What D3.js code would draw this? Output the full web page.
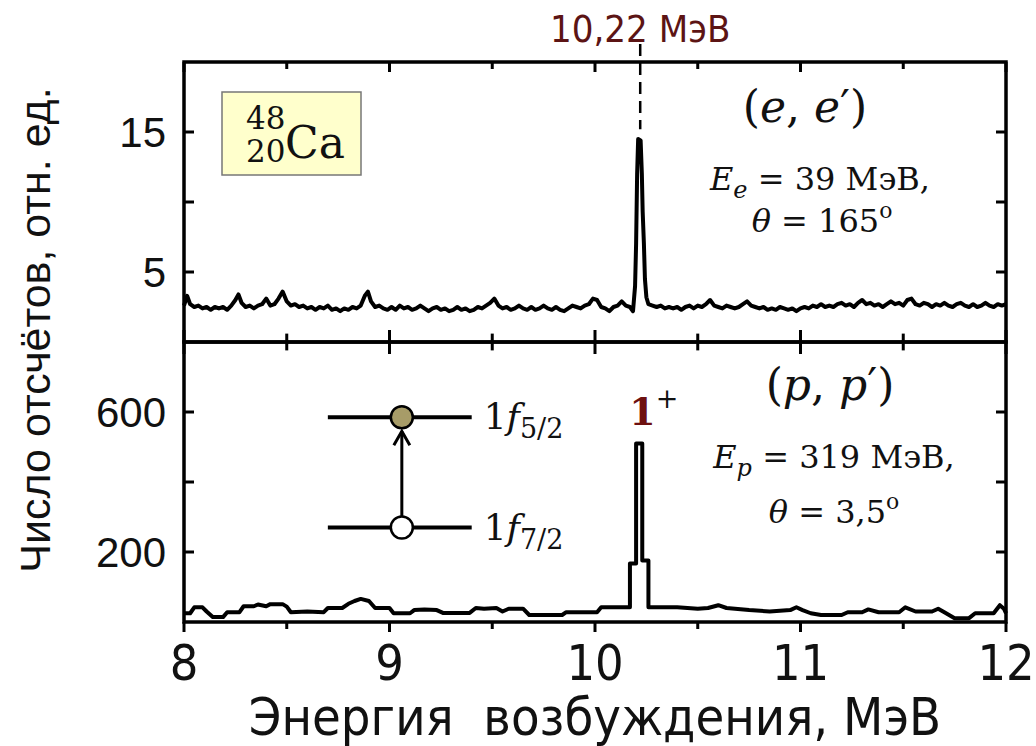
<!DOCTYPE html>
<html>
<head>
<meta charset="utf-8">
<script src="https://cdn.jsdelivr.net/npm/d3@7"></script>
<style>
  body { margin: 0; background: #fff; overflow: hidden; }
  svg { display: block; }
</style>
</head>
<body>
<div id="chart"></div>
<script>
// Excitation energy ticks (MeV)
const xTickLabels = [8, 9, 10, 11, 12];
const xMinorTicks = [8.5, 9.5, 10.5, 11.5];
const yTicksTop = [5, 10, 15];
const yLabelsTop = [5, 15];
const yTicksBottom = [200, 400, 600];
const yLabelsBottom = [200, 600];
const peakEnergy = 10.22;

// (e,e') spectrum: [energy, counts]
const spectrumTop = [
  [8.00, 2.6], [8.015, 3.3], [8.03, 2.7], [8.05, 2.5], [8.07, 2.6], [8.09, 2.4], [8.11, 2.5], [8.13, 2.3],
  [8.15, 2.5], [8.17, 2.4], [8.19, 2.5], [8.21, 2.3], [8.23, 2.6], [8.25, 3.0], [8.265, 3.4], [8.28, 2.8],
  [8.30, 2.5], [8.32, 2.6], [8.34, 2.4], [8.36, 2.6], [8.38, 2.7], [8.40, 3.1], [8.42, 2.6], [8.44, 2.7],
  [8.46, 3.1], [8.48, 3.6], [8.50, 2.9], [8.52, 2.6], [8.54, 2.7], [8.56, 2.5], [8.58, 2.6], [8.60, 2.4],
  [8.62, 2.5], [8.64, 2.3], [8.66, 2.5], [8.68, 2.4], [8.70, 2.6], [8.72, 2.3], [8.74, 2.4], [8.76, 2.2],
  [8.78, 2.4], [8.80, 2.3], [8.82, 2.5], [8.84, 2.4], [8.86, 2.6], [8.88, 3.3], [8.895, 3.6], [8.91, 2.9],
  [8.93, 2.5], [8.95, 2.6], [8.97, 2.4], [8.99, 2.3], [9.01, 2.5], [9.03, 2.3], [9.05, 2.6], [9.07, 2.4],
  [9.09, 2.5], [9.11, 2.3], [9.13, 2.4], [9.15, 2.6], [9.17, 2.4], [9.19, 2.2], [9.21, 2.4], [9.23, 2.5],
  [9.25, 2.3], [9.27, 2.4], [9.29, 2.2], [9.31, 2.3], [9.33, 2.5], [9.35, 2.3], [9.37, 2.4], [9.39, 2.2],
  [9.41, 2.3], [9.43, 2.5], [9.45, 2.4], [9.47, 2.6], [9.49, 2.8], [9.51, 3.1], [9.53, 2.6], [9.55, 2.4],
  [9.57, 2.5], [9.59, 2.3], [9.61, 2.4], [9.63, 2.6], [9.65, 2.4], [9.67, 2.3], [9.69, 2.5], [9.71, 2.3],
  [9.73, 2.4], [9.75, 2.6], [9.77, 2.4], [9.79, 2.3], [9.81, 2.5], [9.83, 2.3], [9.85, 2.2], [9.87, 2.4],
  [9.89, 2.6], [9.91, 2.5], [9.93, 2.4], [9.95, 2.6], [9.97, 2.7], [9.99, 3.1], [10.01, 3.0], [10.03, 2.5],
  [10.05, 2.4], [10.07, 2.2], [10.09, 2.5], [10.11, 2.6], [10.13, 2.9], [10.15, 2.6], [10.17, 2.5], [10.185, 2.2],
  [10.195, 4.0], [10.200, 7.0], [10.205, 12.0], [10.210, 14.5], [10.222, 14.4], [10.228, 12.0], [10.232, 9.3],
  [10.238, 7.0], [10.243, 4.5], [10.25, 3.2], [10.26, 2.7], [10.28, 2.6], [10.30, 2.5], [10.32, 2.6], [10.34, 2.4],
  [10.36, 2.5], [10.38, 2.4], [10.40, 2.5], [10.42, 2.3], [10.44, 2.5], [10.46, 2.6], [10.48, 2.4], [10.50, 2.6],
  [10.52, 2.5], [10.54, 2.7], [10.56, 3.0], [10.58, 2.6], [10.60, 2.5], [10.62, 2.4], [10.64, 2.6], [10.66, 2.5],
  [10.68, 2.4], [10.70, 2.5], [10.72, 2.7], [10.74, 2.9], [10.76, 2.6], [10.78, 2.5], [10.80, 2.4], [10.82, 2.5],
  [10.84, 2.3], [10.86, 2.4], [10.88, 2.3], [10.90, 2.5], [10.92, 2.4], [10.94, 2.3], [10.96, 2.4], [10.98, 2.2],
  [11.00, 2.4], [11.02, 2.5], [11.04, 2.4], [11.06, 2.6], [11.08, 2.5], [11.10, 2.7], [11.12, 2.5], [11.14, 2.6],
  [11.16, 2.5], [11.18, 2.7], [11.20, 2.8], [11.22, 2.6], [11.24, 2.7], [11.26, 2.5], [11.28, 2.8], [11.30, 3.0],
  [11.32, 2.7], [11.34, 2.8], [11.36, 2.6], [11.38, 2.7], [11.40, 2.5], [11.42, 2.7], [11.44, 2.9], [11.46, 2.7],
  [11.48, 2.8], [11.50, 2.6], [11.52, 3.0], [11.54, 3.1], [11.56, 2.7], [11.58, 2.6], [11.60, 2.8], [11.62, 2.7],
  [11.64, 2.5], [11.66, 2.7], [11.68, 2.6], [11.70, 2.8], [11.72, 2.6], [11.74, 2.5], [11.76, 2.7], [11.78, 2.8],
  [11.80, 2.6], [11.82, 2.5], [11.84, 2.7], [11.86, 2.5], [11.88, 2.6], [11.90, 2.8], [11.92, 2.6], [11.94, 2.5],
  [11.96, 2.7], [11.98, 2.6], [12.00, 2.7]
];

// (p,p') spectrum: [energy, counts]
const spectrumBottom = [
  [8.00, 25], [8.03, 25], [8.05, 42], [8.09, 42], [8.11, 30], [8.14, 14], [8.19, 14], [8.21, 28],
  [8.27, 28], [8.29, 45], [8.34, 45], [8.36, 50], [8.40, 45], [8.42, 51], [8.48, 51], [8.50, 44],
  [8.52, 28], [8.60, 30], [8.68, 28], [8.70, 40], [8.77, 40], [8.80, 52], [8.83, 60], [8.86, 66],
  [8.90, 60], [8.93, 40], [9.00, 40], [9.02, 25], [9.10, 25], [9.12, 34], [9.17, 36], [9.23, 34],
  [9.26, 26], [9.39, 26], [9.42, 40], [9.46, 38], [9.52, 40], [9.55, 30], [9.58, 38], [9.65, 38],
  [9.68, 20], [9.84, 20], [9.86, 28], [10.01, 28], [10.03, 42], [10.17, 42], [10.17, 167], [10.20, 167],
  [10.20, 510], [10.23, 510], [10.23, 176], [10.26, 176], [10.26, 42], [10.40, 42], [10.50, 38], [10.55, 40],
  [10.60, 48], [10.64, 40], [10.75, 34], [10.85, 30], [10.95, 34], [10.98, 42], [11.01, 34], [11.05, 25],
  [11.10, 20], [11.20, 20], [11.23, 28], [11.30, 28], [11.33, 36], [11.38, 28], [11.48, 28], [11.51, 42],
  [11.56, 30], [11.64, 30], [11.67, 38], [11.70, 28], [11.75, 11], [11.82, 11], [11.85, 25], [11.94, 25],
  [11.97, 48], [11.99, 38], [12.00, 25]
];

// Level scheme (drawn in data units of the lower panel)
const levelEnergy = [8.70, 9.40];
const levelCircleEnergy = 9.06;
const levelCounts = [585, 270];
const levelNames = ["5/2", "7/2"];

const SANS = "Liberation Sans, Arial, sans-serif";
const NARROW = "Liberation Sans Narrow, DejaVu Sans Condensed, sans-serif";
const SERIF = "DejaVu Serif, Liberation Serif, serif";

const width = 1036, height = 746;
const margin = { left: 184, right: 30, top: 62 };
const panelHeight = 280;
const innerWidth = width - margin.left - margin.right;
const midY = margin.top + panelHeight;
const bottomY = midY + panelHeight;

const svg = d3.select("#chart")
  .append("svg")
    .attr("width", width)
    .attr("height", height)
    .attr("viewBox", `0 0 ${width} ${height}`);

/****************************/
/*    Declare the scales    */
/****************************/
const xScale = d3.scaleLinear()
  .domain([8, 12])
  .range([margin.left, margin.left + innerWidth]);

const yTop = d3.scaleLinear()
  .domain([0, 20])
  .range([midY, margin.top]);

const yBottom = d3.scaleLinear()
  .domain([0, 800])
  .range([bottomY, midY]);

/****************************/
/*    Spectra               */
/****************************/
const lineTop = d3.line()
  .x(d => xScale(d[0]))
  .y(d => yTop(d[1]));

svg.append("path")
  .attr("d", lineTop(spectrumTop))
  .attr("fill", "none")
  .attr("stroke", "#000")
  .attr("stroke-width", 4)
  .attr("stroke-linejoin", "round");

const lineBottom = d3.line()
  .x(d => xScale(d[0]))
  .y(d => yBottom(d[1]));

svg.append("path")
  .attr("d", lineBottom(spectrumBottom))
  .attr("fill", "none")
  .attr("stroke", "#000")
  .attr("stroke-width", 4)
  .attr("stroke-linejoin", "round");

/****************************/
/*    Frames and ticks      */
/****************************/
[[margin.top, midY], [midY, bottomY]].forEach(([y0, y1]) => {
  svg.append("rect")
    .attr("x", xScale(8))
    .attr("y", y0)
    .attr("width", xScale(12) - xScale(8))
    .attr("height", y1 - y0)
    .attr("fill", "none")
    .attr("stroke", "#000")
    .attr("stroke-width", 3.5);
});

const drawXTicks = (y, up, down) => {
  const ticks = xTickLabels.map(v => ({ v, major: true }))
    .concat(xMinorTicks.map(v => ({ v, major: false })));
  svg.append("g")
    .selectAll("line")
    .data(ticks)
    .join("line")
      .attr("x1", d => xScale(d.v))
      .attr("x2", d => xScale(d.v))
      .attr("y1", d => y - up * (d.major ? 1 : 0.7))
      .attr("y2", d => y + down * (d.major ? 1 : 0.7))
      .attr("stroke", "#000")
      .attr("stroke-width", 3);
};
drawXTicks(margin.top, 0, 10);
drawXTicks(midY, 12, 12);
drawXTicks(bottomY, 0, 10);

// Y ticks, inward on both sides
const drawYTicks = (scale, values) => {
  [[xScale(8), 10], [xScale(12), -10]].forEach(([x, len]) => {
    svg.append("g")
      .selectAll("line")
      .data(values)
      .join("line")
        .attr("x1", x)
        .attr("x2", x + len)
        .attr("y1", d => scale(d))
        .attr("y2", d => scale(d))
        .attr("stroke", "#000")
        .attr("stroke-width", 3);
  });
};
drawYTicks(yTop, yTicksTop);
drawYTicks(yBottom, yTicksBottom);

// Y tick labels
const drawYLabels = (scale, values) => {
  svg.append("g")
    .selectAll("text")
    .data(values)
    .join("text")
      .attr("x", xScale(8) - 18)
      .attr("y", d => scale(d) + 15)
      .attr("text-anchor", "end")
      .attr("font-family", SANS)
      .attr("font-size", 42)
      .attr("fill", "#111")
      .text(d => d);
};
drawYLabels(yTop, yLabelsTop);
drawYLabels(yBottom, yLabelsBottom);

// X tick labels
svg.append("g")
  .selectAll("text")
  .data(xTickLabels)
  .join("text")
    .attr("x", d => xScale(d))
    .attr("y", 680)
    .attr("text-anchor", "middle")
    .attr("font-family", NARROW)
    .attr("font-size", 50)
    .attr("fill", "#111")
    .text(d => d);

/****************************/
/*    Axis titles           */
/****************************/
svg.append("text")
  .attr("x", xScale(10))
  .attr("y", 735)
  .attr("text-anchor", "middle")
  .attr("font-family", NARROW)
  .attr("font-size", 52)
  .style("white-space", "pre")
  .attr("fill", "#111")
  .text("Энергия  возбуждения, МэВ");

svg.append("text")
  .attr("transform", `translate(50, ${midY - 12}) rotate(-90)`)
  .attr("text-anchor", "middle")
  .attr("font-family", SANS)
  .attr("font-size", 43)
  .attr("fill", "#111")
  .text("Число отсчётов, отн. ед.");

/****************************/
/*    Peak marker           */
/****************************/
svg.append("line")
  .attr("x1", xScale(peakEnergy))
  .attr("x2", xScale(peakEnergy))
  .attr("y1", 44)
  .attr("y2", yTop(15.2))
  .attr("stroke", "#000")
  .attr("stroke-width", 2.5)
  .attr("stroke-dasharray", "12 7");

svg.append("text")
  .attr("x", xScale(peakEnergy))
  .attr("y", 42)
  .attr("text-anchor", "middle")
  .attr("font-family", NARROW)
  .attr("font-size", 38)
  .attr("fill", "#5c1414")
  .text("10,22 МэВ");

/****************************/
/*    Nucleus label         */
/****************************/
svg.append("rect")
  .attr("x", 222).attr("y", 92)
  .attr("width", 139).attr("height", 83)
  .attr("fill", "#ffffcc")
  .attr("stroke", "#777")
  .attr("stroke-width", 1.5);

const nuc = svg.append("g").attr("font-family", SERIF).attr("fill", "#111");
nuc.append("text").attr("x", 246).attr("y", 129).attr("font-size", 31).text("48");
nuc.append("text").attr("x", 246).attr("y", 162).attr("font-size", 31).text("20");
nuc.append("text").attr("x", 285).attr("y", 158).attr("font-size", 44).text("Ca");

/****************************/
/*    Reaction labels       */
/****************************/
const addMath = (cx, y, size, parts) => {
  const t = svg.append("text")
    .attr("x", cx)
    .attr("y", y)
    .attr("text-anchor", "middle")
    .attr("font-family", SERIF)
    .attr("font-size", size)
    .attr("fill", "#111");
  parts.forEach(p => {
    const s = t.append("tspan").text(p.t);
    if (p.i) s.attr("font-style", "italic");
    if (p.dy) s.attr("dy", p.dy);
    if (p.fs) s.attr("font-size", p.fs);
  });
  return t;
};

addMath(805, 122, 44, [{ t: "(" }, { t: "e", i: true }, { t: ", " }, { t: "e", i: true }, { t: "′)" }]);
addMath(820, 190, 32, [{ t: "E", i: true }, { t: "e", i: true, dy: 8, fs: 24 }, { t: " = 39 МэВ,", dy: -8 }]);
addMath(822, 232, 32, [{ t: "θ", i: true }, { t: " = 165" }, { t: "o", dy: -14, fs: 22 }]);

addMath(830, 400, 44, [{ t: "(" }, { t: "p", i: true }, { t: ", " }, { t: "p", i: true }, { t: "′)" }]);
addMath(834, 468, 32, [{ t: "E", i: true }, { t: "p", i: true, dy: 8, fs: 24 }, { t: " = 319 МэВ,", dy: -8 }]);
addMath(834, 523, 32, [{ t: "θ", i: true }, { t: " = 3,5" }, { t: "o", dy: -14, fs: 22 }]);

// 1+ label
const jp = svg.append("text")
  .attr("x", xScale(peakEnergy) - 11)
  .attr("y", 425)
  .attr("font-family", SERIF)
  .attr("font-size", 38);
jp.append("tspan").text("1").attr("fill", "#6e1010").attr("font-weight", "bold");
jp.append("tspan").text("+").attr("fill", "#111").attr("dy", -17).attr("font-size", 27);

/****************************/
/*    Level scheme          */
/****************************/
levelCounts.forEach(c => {
  svg.append("line")
    .attr("x1", xScale(levelEnergy[0]))
    .attr("x2", xScale(levelEnergy[1]))
    .attr("y1", yBottom(c))
    .attr("y2", yBottom(c))
    .attr("stroke", "#000")
    .attr("stroke-width", 4);
});

const cx = xScale(levelCircleEnergy);
const upperY = yBottom(levelCounts[0]);
svg.append("line")
  .attr("x1", cx).attr("x2", cx)
  .attr("y1", yBottom(levelCounts[1]) - 11)
  .attr("y2", upperY + 14)
  .attr("stroke", "#000")
  .attr("stroke-width", 3);
svg.append("path")
  .attr("d", `M${cx - 8},${upperY + 28} L${cx},${upperY + 14} L${cx + 8},${upperY + 28}`)
  .attr("fill", "none")
  .attr("stroke", "#000")
  .attr("stroke-width", 3);

svg.append("circle")
  .attr("cx", cx).attr("cy", upperY)
  .attr("r", 11)
  .attr("fill", "#a79c68")
  .attr("stroke", "#000")
  .attr("stroke-width", 2.5);
svg.append("circle")
  .attr("cx", cx).attr("cy", yBottom(levelCounts[1]))
  .attr("r", 11)
  .attr("fill", "#fff")
  .attr("stroke", "#000")
  .attr("stroke-width", 2.5);

levelCounts.forEach((c, i) => {
  const t = svg.append("text")
    .attr("x", xScale(levelEnergy[1]) + 12)
    .attr("y", yBottom(c) + 12)
    .attr("font-family", SERIF)
    .attr("font-size", 36)
    .attr("fill", "#111");
  t.append("tspan").text("1");
  t.append("tspan").text("f").attr("font-style", "italic");
  t.append("tspan").text(levelNames[i]).attr("dy", 9).attr("font-size", 27);
});
</script>
</body>
</html>
